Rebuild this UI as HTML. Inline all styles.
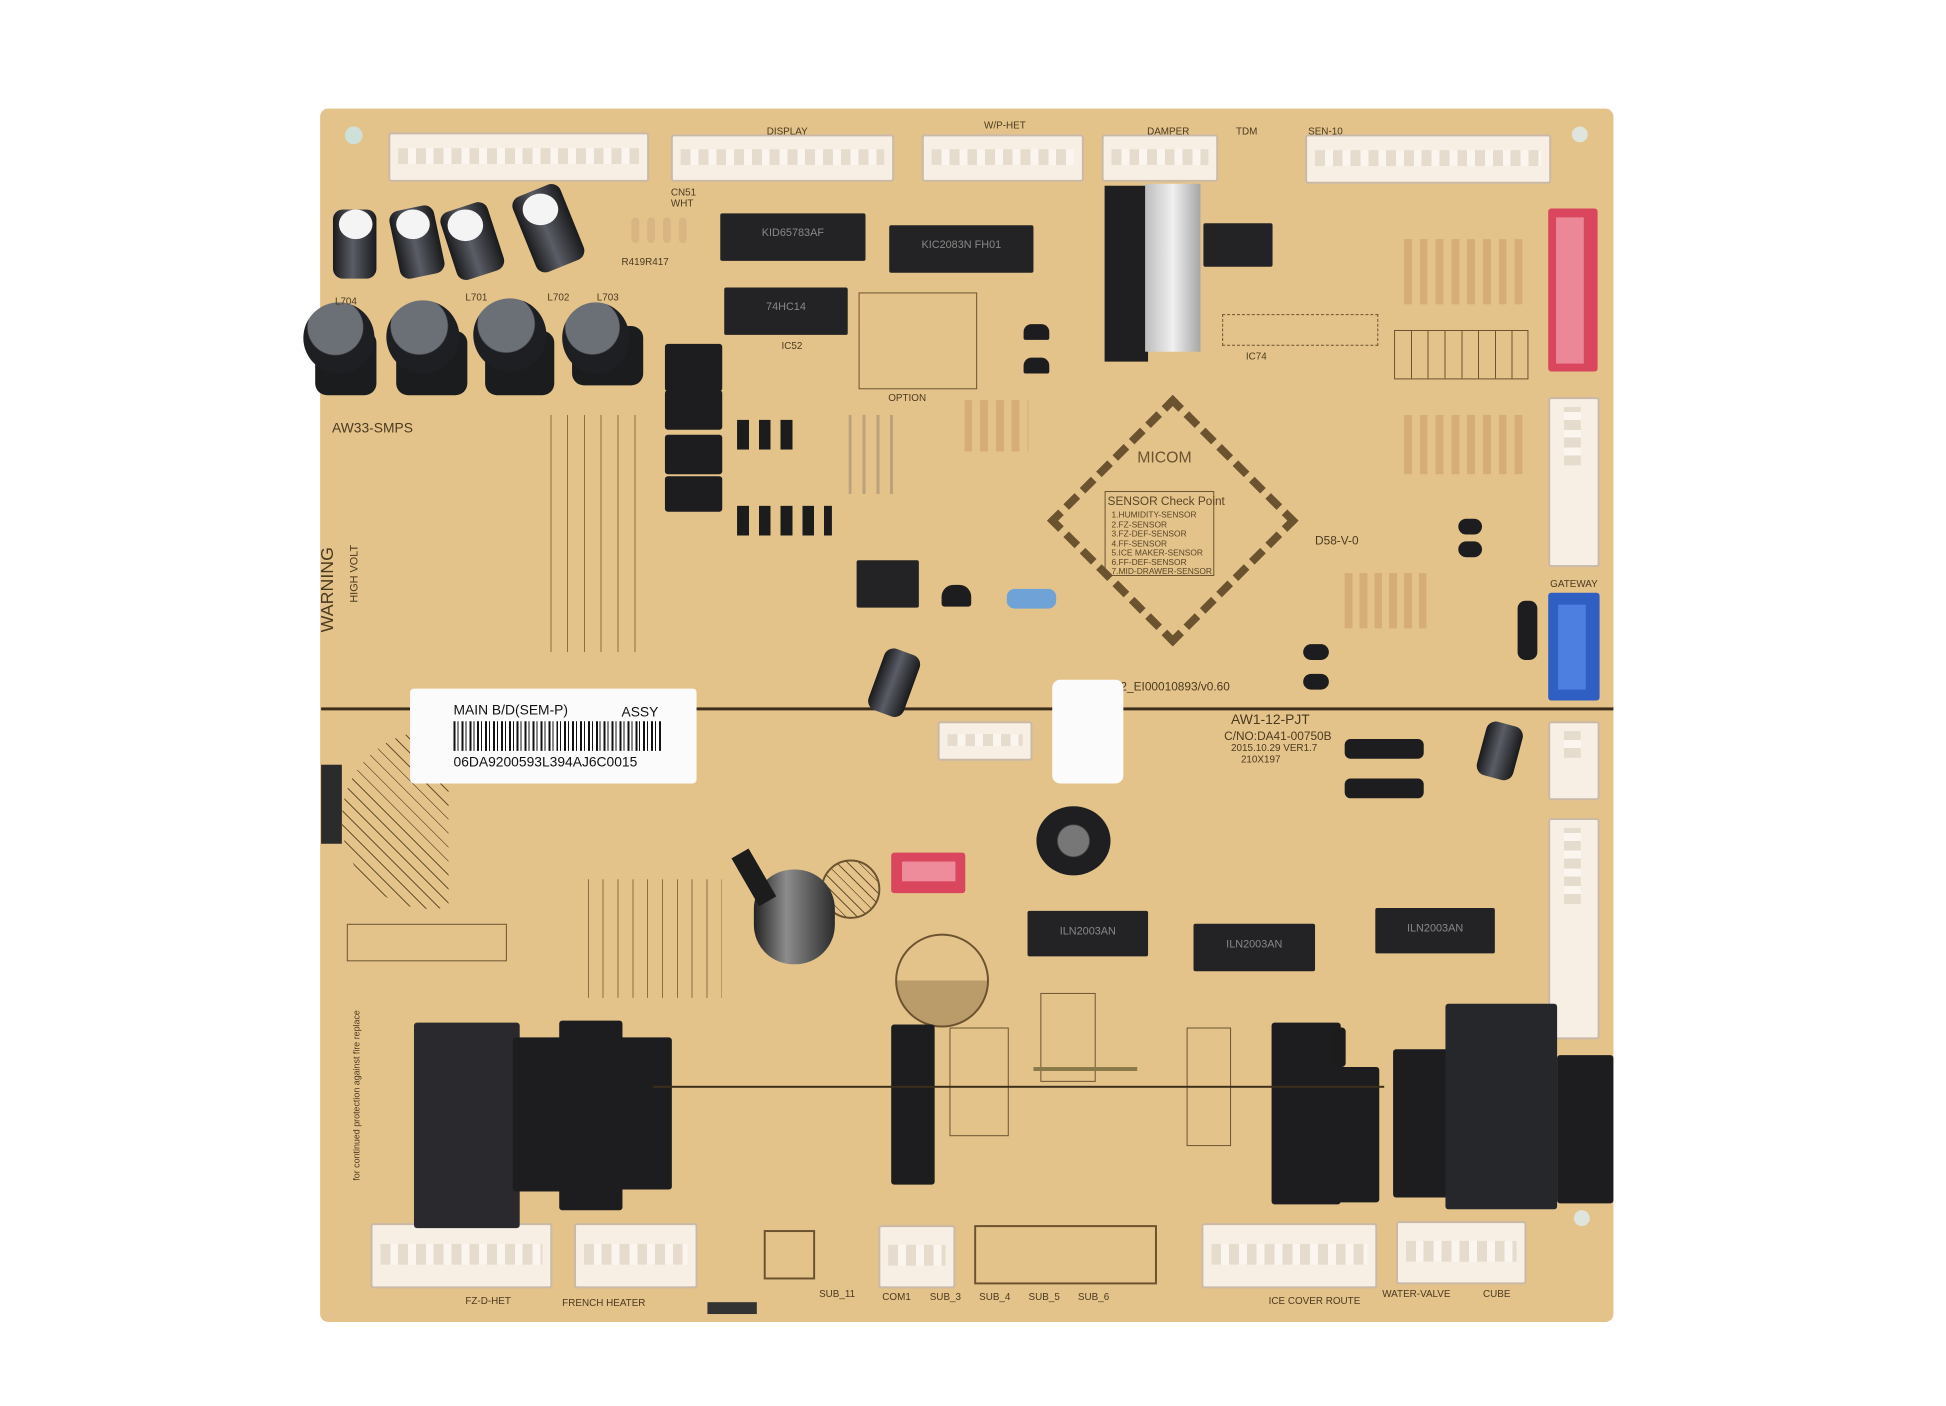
<!DOCTYPE html>
<html><head><meta charset="utf-8">
<style>
html,body{margin:0;padding:0;background:#fff;}
body{width:1946px;height:1406px;position:relative;overflow:hidden;font-family:"Liberation Sans",sans-serif;}
#w{position:absolute;left:0;top:0;width:1946px;height:1406px;transform:translate(1px,0px) scale(0.988);transform-origin:0 0;}
.a{position:absolute;box-sizing:border-box;}
.board{left:323px;top:110px;width:1309px;height:1228px;background:#e4c38a;border-radius:8px;}
.con{background:#f7efe4;border:2px solid #c9b9a6;border-radius:3px;}
.con::after{content:"";position:absolute;left:8px;right:8px;top:30%;height:35%;background:repeating-linear-gradient(90deg,#e6dccd 0 10px,#faf5ee 10px 18px);}
.conv::after{content:"";position:absolute;top:8px;bottom:8px;left:30%;width:35%;background:repeating-linear-gradient(0deg,#e6dccd 0 10px,#faf5ee 10px 18px);}
.blk{background:#1d1d1f;border-radius:3px;}
.ic{background:#232325;border-radius:2px;color:#888;font-size:11px;text-align:center;}
.cap{background:linear-gradient(90deg,#1a1a1c,#5a5d66 45%,#1a1a1c);border-radius:10px;}
.ind{background:radial-gradient(circle at 45% 35%,#6b6f76 0 45%,#1e1f22 47%);border-radius:50%;}
.t{position:absolute;color:#4a3a20;font-size:10px;white-space:nowrap;}
.res{background:#d9b583;border-radius:4px;width:8px;height:26px;}
</style></head><body>
<div id="w">
<div class="a board"></div>

<div class="a" style="left:348px;top:128px;width:18px;height:18px;border-radius:50%;background:#cfe0d8"></div>
<div class="a" style="left:1590px;top:128px;width:16px;height:16px;border-radius:50%;background:#dfe5dc"></div>
<div class="a" style="left:1592px;top:1225px;width:16px;height:16px;border-radius:50%;background:#dfe5dc"></div>

<div class="a con" style="left:392px;top:134px;width:264px;height:50px"></div>
<div class="a con" style="left:678px;top:136px;width:226px;height:48px"></div>
<div class="a con" style="left:932px;top:136px;width:164px;height:48px"></div>
<div class="a con" style="left:1114px;top:136px;width:118px;height:48px"></div>
<div class="a con" style="left:1320px;top:136px;width:249px;height:50px"></div>
<div class="t" style="left:775px;top:128px">DISPLAY</div>
<div class="t" style="left:995px;top:122px">W/P-HET</div>
<div class="t" style="left:1160px;top:128px">DAMPER</div>
<div class="t" style="left:1250px;top:128px">TDM</div>
<div class="t" style="left:1323px;top:128px">SEN-10</div>
<div class="t" style="left:678px;top:190px">CN51<br>WHT</div>

<div class="a" style="left:1566px;top:211px;width:50px;height:165px;background:#d9465e;border-radius:3px"></div>
<div class="a" style="left:1574px;top:220px;width:28px;height:148px;background:#ec8797"></div>
<div class="a con conv" style="left:1566px;top:402px;width:52px;height:172px"></div>
<div class="a" style="left:1566px;top:600px;width:52px;height:109px;background:#2f5fc2;border-radius:3px"></div>
<div class="a" style="left:1576px;top:612px;width:28px;height:86px;background:#4d7fe0"></div>
<div class="a con conv" style="left:1566px;top:730px;width:52px;height:80px"></div>
<div class="a con conv" style="left:1566px;top:828px;width:52px;height:224px"></div>
<div class="t" style="left:1568px;top:586px">GATEWAY</div>

<div class="a con" style="left:374px;top:1238px;width:184px;height:66px"></div>
<div class="a con" style="left:580px;top:1238px;width:125px;height:66px"></div>
<div class="a con" style="left:888px;top:1240px;width:78px;height:64px"></div>
<div class="a con" style="left:1215px;top:1238px;width:178px;height:66px"></div>
<div class="a con" style="left:1412px;top:1236px;width:132px;height:64px"></div>
<div class="a" style="left:985px;top:1240px;width:185px;height:60px;border:2px solid #6b5330"></div>
<div class="a" style="left:772px;top:1245px;width:52px;height:50px;border:2px solid #6b5330"></div>
<div class="t" style="left:470px;top:1312px">FZ-D-HET</div>
<div class="t" style="left:568px;top:1314px">FRENCH HEATER</div>
<div class="t" style="left:828px;top:1305px">SUB_11</div>
<div class="t" style="left:892px;top:1308px">COM1</div>
<div class="t" style="left:940px;top:1308px">SUB_3</div>
<div class="t" style="left:990px;top:1308px">SUB_4</div>
<div class="t" style="left:1040px;top:1308px">SUB_5</div>
<div class="t" style="left:1090px;top:1308px">SUB_6</div>
<div class="t" style="left:1283px;top:1312px">ICE COVER ROUTE</div>
<div class="t" style="left:1398px;top:1305px">WATER-VALVE</div>
<div class="t" style="left:1500px;top:1305px">CUBE</div>
<div class="a" style="left:715px;top:1318px;width:50px;height:12px;background:#333"></div>

<div class="a cap" style="left:336px;top:212px;width:44px;height:70px"></div>
<div class="a cap" style="left:398px;top:210px;width:46px;height:70px;transform:rotate(-12deg)"></div>
<div class="a cap" style="left:452px;top:208px;width:50px;height:72px;transform:rotate(-18deg)"></div>
<div class="a cap" style="left:528px;top:190px;width:52px;height:82px;transform:rotate(-22deg)"></div>
<div class="a" style="left:342px;top:212px;width:34px;height:30px;border-radius:50%;background:#f4f4f4"></div>
<div class="a" style="left:400px;top:212px;width:34px;height:30px;border-radius:50%;background:#f4f4f4"></div>
<div class="a" style="left:452px;top:212px;width:36px;height:32px;border-radius:50%;background:#f4f4f4"></div>
<div class="a" style="left:528px;top:196px;width:36px;height:32px;border-radius:50%;background:#f4f4f4"></div>
<div class="a" style="left:318px;top:335px;width:62px;height:65px;background:#1b1c1e;border-radius:12px"></div>
<div class="a ind" style="left:306px;top:306px;width:72px;height:72px"></div>
<div class="a" style="left:400px;top:335px;width:72px;height:65px;background:#1b1c1e;border-radius:12px"></div>
<div class="a ind" style="left:390px;top:304px;width:74px;height:74px"></div>
<div class="a" style="left:490px;top:335px;width:70px;height:65px;background:#1b1c1e;border-radius:12px"></div>
<div class="a ind" style="left:478px;top:302px;width:74px;height:74px"></div>
<div class="a" style="left:578px;top:330px;width:72px;height:60px;background:#1b1c1e;border-radius:12px"></div>
<div class="a ind" style="left:568px;top:306px;width:68px;height:72px"></div>
<div class="t" style="left:338px;top:300px">L704</div><div class="t" style="left:470px;top:296px">L701</div>
<div class="t" style="left:553px;top:296px">L702</div><div class="t" style="left:603px;top:296px">L703</div>

<div class="a res" style="left:638px;top:220px"></div><div class="a res" style="left:654px;top:220px"></div>
<div class="a res" style="left:670px;top:220px"></div><div class="a res" style="left:686px;top:220px"></div>
<div class="t" style="left:628px;top:260px">R419R417</div>

<div class="a ic" style="left:728px;top:216px;width:147px;height:48px;padding-top:14px">KID65783AF</div>
<div class="a ic" style="left:899px;top:228px;width:146px;height:48px;padding-top:14px">KIC2083N FH01</div>
<div class="a ic" style="left:732px;top:291px;width:125px;height:48px;padding-top:14px">74HC14</div>
<div class="t" style="left:790px;top:345px">IC52</div>
<div class="a" style="left:868px;top:296px;width:120px;height:98px;border:1px solid #6b5330"></div>
<div class="t" style="left:898px;top:398px">OPTION</div>
<div class="a" style="left:1117px;top:188px;width:44px;height:178px;background:#1f1f21"></div>
<div class="a" style="left:1158px;top:186px;width:56px;height:170px;background:linear-gradient(90deg,#bdbdbd,#f0f0f0,#a6a6a6)"></div>
<div class="a ic" style="left:1217px;top:226px;width:70px;height:44px"></div>
<div class="a" style="left:1236px;top:318px;width:158px;height:32px;border:1px dashed #6b5330"></div>
<div class="t" style="left:1260px;top:356px">IC74</div>

<div class="a" style="left:1420px;top:242px;width:120px;height:66px;background:repeating-linear-gradient(90deg,#d6ad77 0 8px,transparent 8px 16px)"></div>
<div class="a" style="left:1420px;top:420px;width:120px;height:60px;background:repeating-linear-gradient(90deg,#d6ad77 0 8px,transparent 8px 16px)"></div>
<div class="a" style="left:1410px;top:334px;width:136px;height:50px;border:1px solid #6b5330;background:repeating-linear-gradient(90deg,transparent 0 16px,#6b5330 16px 17px)"></div>
<div class="a" style="left:1360px;top:580px;width:90px;height:56px;background:repeating-linear-gradient(90deg,#d6ad77 0 8px,transparent 8px 15px)"></div>
<div class="a" style="left:975px;top:405px;width:65px;height:52px;background:repeating-linear-gradient(90deg,#d6ad77 0 8px,transparent 8px 16px)"></div>

<div class="a blk" style="left:1035px;top:328px;width:26px;height:16px;border-radius:8px 8px 2px 2px"></div>
<div class="a blk" style="left:1035px;top:362px;width:26px;height:16px;border-radius:8px 8px 2px 2px"></div>
<div class="a blk" style="left:1475px;top:525px;width:24px;height:16px;border-radius:8px"></div>
<div class="a blk" style="left:1475px;top:548px;width:24px;height:16px;border-radius:8px"></div>
<div class="a blk" style="left:1318px;top:652px;width:26px;height:16px;border-radius:8px"></div>
<div class="a blk" style="left:1318px;top:682px;width:26px;height:16px;border-radius:8px"></div>
<div class="a blk" style="left:952px;top:592px;width:30px;height:22px;border-radius:12px 12px 3px 3px"></div>

<div class="a blk" style="left:672px;top:348px;width:58px;height:48px"></div>
<div class="a blk" style="left:672px;top:395px;width:58px;height:40px"></div>
<div class="a blk" style="left:672px;top:440px;width:58px;height:40px"></div>
<div class="a blk" style="left:672px;top:482px;width:58px;height:36px"></div>
<div class="a" style="left:745px;top:425px;width:64px;height:30px;background:repeating-linear-gradient(90deg,#1c1c1c 0 12px,transparent 12px 22px)"></div>
<div class="a" style="left:745px;top:512px;width:96px;height:30px;background:repeating-linear-gradient(90deg,#1c1c1c 0 12px,transparent 12px 22px)"></div>
<div class="a" style="left:858px;top:420px;width:50px;height:80px;background:repeating-linear-gradient(90deg,#b9a27c 0 3px,transparent 3px 14px)"></div>
<div class="a ic" style="left:866px;top:567px;width:63px;height:48px"></div>
<div class="a" style="left:1018px;top:596px;width:50px;height:20px;background:#6fa3d8;border-radius:8px"></div>

<div class="a" style="left:1096px;top:437px;width:180px;height:180px;transform:rotate(45deg);border:8px dashed #6b5330;background:#e3c38a"></div>
<div class="t" style="left:1150px;top:455px;font-size:16px;color:#6b5330">MICOM</div>
<div class="a" style="left:1117px;top:497px;width:111px;height:86px;border:1px solid #6b5330"></div>
<div class="t" style="left:1120px;top:500px;font-size:12px;color:#5a4528">SENSOR Check Point</div>
<div class="t" style="left:1124px;top:517px;font-size:8.5px;line-height:9.5px;color:#5a4528">1.HUMIDITY-SENSOR<br>2.FZ-SENSOR<br>3.FZ-DEF-SENSOR<br>4.FF-SENSOR<br>5.ICE MAKER-SENSOR<br>6.FF-DEF-SENSOR<br>7.MID-DRAWER-SENSOR</div>
<div class="t" style="left:1330px;top:540px;font-size:12px">D58-V-0</div>
<div class="t" style="left:1113px;top:688px;font-size:12px">1412_EI00010893/v0.60</div>
<div class="t" style="left:1245px;top:720px;font-size:14px">AW1-12-PJT</div>
<div class="t" style="left:1238px;top:738px;font-size:12px">C/NO:DA41-00750B</div>
<div class="t" style="left:1245px;top:752px">2015.10.29 VER1.7</div>
<div class="t" style="left:1255px;top:764px">210X197</div>

<div class="t" style="left:335px;top:425px;font-size:14px">AW33-SMPS</div>
<div class="t" style="left:320px;font-size:18px;transform:rotate(-90deg);transform-origin:left top;top:640px">WARNING</div>
<div class="t" style="left:352px;top:610px;font-size:11px;transform:rotate(-90deg);transform-origin:left top">HIGH VOLT</div>
<div class="a" style="left:345px;top:740px;width:180px;height:180px;border-radius:50%;background:repeating-linear-gradient(45deg,#6b5330 0 1px,transparent 1px 10px);clip-path:inset(0 40% 0 0)"></div>
<div class="a" style="left:540px;top:420px;width:110px;height:240px;background:repeating-linear-gradient(90deg,transparent 0 16px,#8a6e44 16px 17px)"></div>

<div class="a" style="left:324px;top:716px;width:1308px;height:3px;background:#3c2e1a"></div>
<div class="a" style="left:324px;top:774px;width:21px;height:80px;background:#2b2b2b"></div>

<div class="a" style="left:414px;top:697px;width:290px;height:96px;background:#fbfbfb;border-radius:4px"></div>
<div class="t" style="left:458px;top:710px;font-size:14px;color:#111">MAIN B/D(SEM-P)</div>
<div class="t" style="left:628px;top:712px;font-size:14px;color:#111">ASSY</div>
<div class="a" style="left:458px;top:730px;width:210px;height:30px;background:repeating-linear-gradient(90deg,#111 0 2px,#fff 2px 4px,#111 4px 5px,#fff 5px 8px)"></div>
<div class="t" style="left:458px;top:763px;font-size:14px;color:#111">06DA9200593L394AJ6C0015</div>

<div class="a" style="left:1064px;top:688px;width:72px;height:105px;background:#fbfbfb;border-radius:8px"></div>

<div class="a cap" style="left:885px;top:658px;width:38px;height:66px;transform:rotate(20deg)"></div>
<div class="a con" style="left:948px;top:730px;width:96px;height:40px"></div>
<div class="a" style="left:901px;top:863px;width:75px;height:41px;background:#d9465e;border-radius:3px"></div>
<div class="a" style="left:912px;top:872px;width:54px;height:20px;background:#ef8c9c"></div>
<div class="a" style="left:905px;top:945px;width:95px;height:95px;border-radius:50%;border:2px solid #6b5330;background:linear-gradient(180deg,transparent 50%,rgba(107,83,48,.35) 50%)"></div>
<div class="a" style="left:1048px;top:816px;width:75px;height:70px;border-radius:50%;background:radial-gradient(circle,#777 0 30%,#1f1f21 33%)"></div>
<div class="a" style="left:830px;top:870px;width:60px;height:60px;border-radius:50%;border:2px solid #6b5330;background:repeating-linear-gradient(45deg,#6b5330 0 1px,transparent 1px 8px)"></div>
<div class="a" style="left:762px;top:880px;width:82px;height:96px;border-radius:40px;background:linear-gradient(90deg,#222,#8c8c8c 40%,#2b2b2b)"></div>
<div class="a" style="left:752px;top:860px;width:20px;height:56px;background:#1c1c1c;transform:rotate(-30deg)"></div>
<div class="a cap" style="left:1498px;top:732px;width:38px;height:56px;transform:rotate(15deg)"></div>
<div class="a blk" style="left:1360px;top:748px;width:80px;height:20px;border-radius:6px"></div>
<div class="a blk" style="left:1360px;top:788px;width:80px;height:20px;border-radius:6px"></div>
<div class="a blk" style="left:1535px;top:608px;width:20px;height:60px;border-radius:8px"></div>

<div class="a ic" style="left:1039px;top:922px;width:122px;height:46px;padding-top:15px">ILN2003AN</div>
<div class="a ic" style="left:1207px;top:935px;width:123px;height:48px;padding-top:15px">ILN2003AN</div>
<div class="a ic" style="left:1391px;top:919px;width:121px;height:46px;padding-top:15px">ILN2003AN</div>

<div class="a blk" style="left:418px;top:1035px;width:107px;height:208px;background:#2a2a2e"></div>
<div class="a blk" style="left:518px;top:1050px;width:50px;height:156px"></div>
<div class="a blk" style="left:565px;top:1033px;width:64px;height:192px"></div>
<div class="a blk" style="left:619px;top:1050px;width:60px;height:154px"></div>
<div class="a blk" style="left:901px;top:1037px;width:44px;height:162px"></div>
<div class="a blk" style="left:1286px;top:1035px;width:70px;height:184px"></div>
<div class="a blk" style="left:1353px;top:1080px;width:42px;height:137px"></div>
<div class="a blk" style="left:1409px;top:1062px;width:78px;height:150px"></div>
<div class="a blk" style="left:1462px;top:1016px;width:113px;height:208px;background:#26272b"></div>
<div class="a blk" style="left:1575px;top:1068px;width:57px;height:150px"></div>

<div class="a" style="left:350px;top:935px;width:162px;height:38px;border:1px solid #6b5330"></div>
<div class="a" style="left:580px;top:890px;width:150px;height:120px;background:repeating-linear-gradient(90deg,transparent 0 14px,#8a6e44 14px 15px)"></div>
<div class="a" style="left:1052px;top:1005px;width:56px;height:90px;border:1px solid #6b5330"></div>
<div class="a" style="left:960px;top:1040px;width:60px;height:110px;border:1px solid #6b5330"></div>
<div class="a" style="left:1045px;top:1080px;width:105px;height:4px;background:#8a7a4a"></div>
<div class="a" style="left:1200px;top:1040px;width:45px;height:120px;border:1px solid #6b5330"></div>
<div class="a" style="left:660px;top:1099px;width:740px;height:2px;background:#3c2e1a"></div>
<div class="a" style="left:1347px;top:1040px;width:14px;height:40px;background:#1c1c1c;border-radius:4px"></div>
<div class="t" style="left:355px;transform:rotate(-90deg);transform-origin:left top;top:1195px;font-size:9px">for continued protection against fire replace</div>
</div>
</body></html>
